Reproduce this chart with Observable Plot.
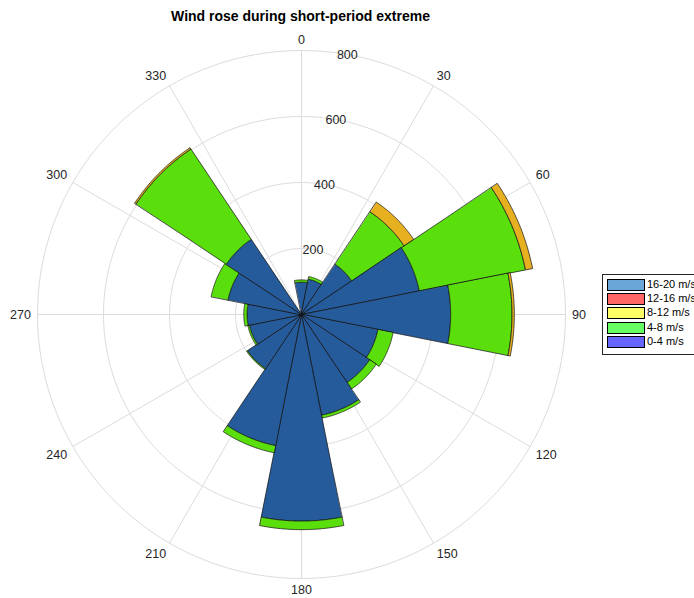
<!DOCTYPE html>
<html>
<head>
<meta charset="utf-8">
<script src="https://cdn.jsdelivr.net/npm/d3@7"></script>
<script src="https://cdn.jsdelivr.net/npm/@observablehq/plot@0.6"></script>
<style>
  html, body { margin: 0; padding: 0; background: #fff; }
  body { width: 694px; height: 598px; position: relative; overflow: hidden; font-family: "Liberation Sans", Arial, sans-serif; }
  #title { position: absolute; left: 0; top: 8px; width: 601px; text-align: center; font-weight: bold; font-size: 14px; line-height: 16px; color: #000; }
  #chart { position: absolute; left: 0; top: 0; }
  #legend { position: absolute; left: 602px; top: 274px; width: 110px; height: 81px; border: 1px solid #262626; background: #fff; box-sizing: border-box; }
  .row { position: absolute; left: 4px; height: 11px; }
  .sw { position: absolute; left: 0; top: 0; width: 36px; height: 10px; border: 1px solid #000; }
  .lb { position: absolute; left: 40px; top: -2px; font-size: 11px; line-height: 14px; color: #000; white-space: nowrap; }
</style>
</head>
<body>
<div id="title">Wind rose during short-period extreme</div>
<div id="chart"></div>
<div id="legend"></div>
<script>
// ---- data ----
const directions = [0, 22.5, 45, 67.5, 90, 112.5, 135, 157.5, 180, 202.5, 225, 247.5, 270, 292.5, 315, 337.5];
const speed0to4   = [98, 109, 183, 364, 452, 236, 248, 311, 626, 405, 197, 161, 165, 227, 274, 0];
const speed4to8   = [7, 8, 191, 328, 186, 47, 24, 9, 26, 22, 3, 5, 10, 52, 329, 0];
const speed8to12  = [0, 0, 35, 22, 7, 0, 0, 0, 0, 0, 0, 0, 0, 0, 5, 0];
const speed12to16 = [0, 0, 0, 0, 0, 0, 0, 0, 0, 0, 0, 0, 0, 0, 0, 0];
const speed16to20 = [0, 0, 0, 0, 0, 0, 0, 0, 0, 0, 0, 0, 0, 0, 0, 0];
const binLabels   = ["0-4 m/s", "4-8 m/s", "8-12 m/s", "12-16 m/s", "16-20 m/s"];
const barColors   = ["#255a9b", "#5ade0c", "#e6b020", "#d95319", "#7e2f8e"];
const legendColors = ["#6666ff", "#66ff66", "#ffff66", "#ff6666", "#6aa6d8"];
const ringValues  = [200, 400, 600, 800];
const angleTicks  = [0, 30, 60, 90, 120, 150, 180, 210, 240, 270, 300, 330];
const rMax = 800;
const sectorWidth = 22.5;

// ---- polar helpers: compass angle -> longitude, value -> latitude ----
const lon = (theta) => 180 - theta;
const lat = (v) => 90 - (v / rMax) * 90;

const series = [speed0to4, speed4to8, speed8to12, speed12to16, speed16to20];
const wedges = [];
directions.forEach((dir, i) => {
  let base = 0;
  series.forEach((s, k) => {
    const v = s[i];
    if (v > 0) {
      const r0 = Math.max(base, 0.5), r1 = base + v;
      const a0 = dir - sectorWidth / 2, a1 = dir + sectorWidth / 2;
      const n = 60, ring = [];
      for (let j = 0; j <= n; ++j) ring.push([lon(a0 + (a1 - a0) * j / n), lat(r1)]);
      for (let j = n; j >= 0; --j) ring.push([lon(a0 + (a1 - a0) * j / n), lat(r0)]);
      ring.push(ring[0]);
      const f = {type: "Feature", properties: {bin: binLabels[k], color: barColors[k]}, geometry: {type: "Polygon", coordinates: [ring]}};
      if (d3.geoArea(f) > 2 * Math.PI) ring.reverse();
      wedges.push(f);
    }
    base += v;
  });
});

const rings = ringValues.map((v) => d3.geoCircle().center([0, 90]).radius((v / rMax) * 90)());
const spokes = angleTicks.map((a) => ({a}));

// angle labels: anchored just outside the outer ring, aligned by side
const labelR = 820;
const angleText = (filter, textAnchor, lineAnchor) =>
  Plot.text(angleTicks.filter(filter), {
    x: (d) => lon(d), y: lat(labelR), text: (d) => String(d),
    textAnchor, lineAnchor, fill: "#262626"
  });
const isTop = (a) => a < 90 || a > 270, isBottom = (a) => a > 90 && a < 270;
const isRight = (a) => a > 0 && a < 180, isLeft = (a) => a > 180;

const plot = Plot.plot({
  width: 694,
  height: 598,
  marginLeft: 37,
  marginRight: 129,
  marginTop: 50,
  marginBottom: 20,
  style: {fontFamily: "'Liberation Sans', Arial, sans-serif", fontSize: "12.5px", background: "transparent", overflow: "visible"},
  projection: {
    type: "azimuthal-equidistant",
    rotate: [0, -90],
    domain: d3.geoCircle().center([0, 90]).radius(90)(),
    clip: false
  },
  marks: [
    Plot.geo(rings, {stroke: "#dcdcdc", strokeWidth: 1, fill: "none"}),
    Plot.link(spokes, {x1: (d) => lon(d.a), y1: 90, x2: (d) => lon(d.a), y2: lat(rMax), stroke: "#dcdcdc", strokeWidth: 1}),
    Plot.geo(wedges, {fill: (d) => d.properties.color, stroke: "#111", strokeWidth: 0.8, strokeOpacity: 0.9}),
    angleText((a) => a === 0, "middle", "bottom"),
    angleText((a) => a === 180, "middle", "top"),
    angleText((a) => isRight(a) && isTop(a), "start", "bottom"),
    angleText((a) => isRight(a) && isBottom(a), "start", "top"),
    angleText((a) => a === 90, "start", "middle"),
    angleText((a) => isLeft(a) && isTop(a), "end", "bottom"),
    angleText((a) => isLeft(a) && isBottom(a), "end", "top"),
    angleText((a) => a === 270, "end", "middle"),
    Plot.text(ringValues, {x: lon(10), y: (d) => lat(d), text: (d) => String(d), fill: "#262626"})
  ]
});
document.getElementById("chart").appendChild(plot);

// legend (top-to-bottom order as in reference)
const legend = document.getElementById("legend");
const order = [4, 3, 2, 1, 0];
order.forEach((k, i) => {
  const row = document.createElement("div");
  row.className = "row";
  row.style.top = (4 + i * 14.2) + "px";
  const sw = document.createElement("div");
  sw.className = "sw";
  sw.style.background = legendColors[k];
  const lb = document.createElement("div");
  lb.className = "lb";
  lb.textContent = binLabels[k];
  row.appendChild(sw);
  row.appendChild(lb);
  legend.appendChild(row);
});
</script>
</body>
</html>
